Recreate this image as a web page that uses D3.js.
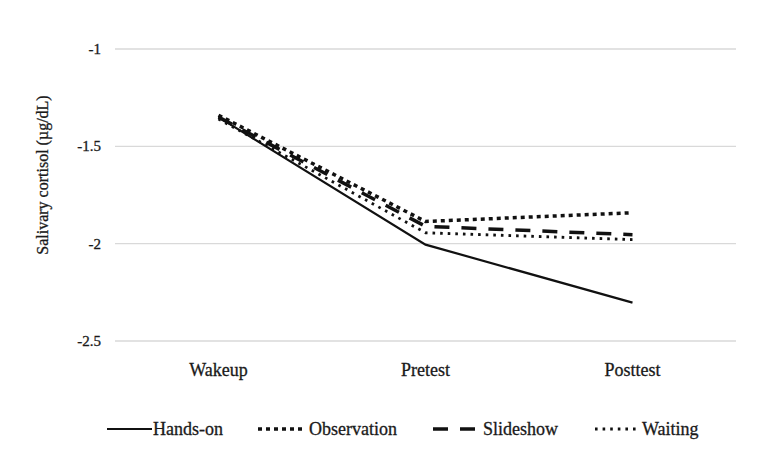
<!DOCTYPE html>
<html>
<head>
<meta charset="utf-8">
<script src="https://cdn.jsdelivr.net/npm/d3@7"></script>
<style>
  body { margin: 0; background: #fff; }
  text { font-family: "Liberation Serif", "Times New Roman", serif; fill: #1a1a1a; stroke: #1a1a1a; stroke-width: 0.3px; }
</style>
</head>
<body>
<div id="graf"></div>
<script>
// data
const categories = ["Wakeup", "Pretest", "Posttest"]
const yTicks = [-1, -1.5, -2, -2.5]
const handsOn = [-1.35, -2.005, -2.303]
const observation = [-1.34, -1.886, -1.841]
const slideshow = [-1.35, -1.911, -1.954]
const waiting = [-1.36, -1.944, -1.979]

const series = [
  {name: "Hands-on", values: handsOn, width: 2.2, dash: null},
  {name: "Observation", values: observation, width: 3.5, dash: "4,4"},
  {name: "Slideshow", values: slideshow, width: 3.5, dash: "15,12"},
  {name: "Waiting", values: waiting, width: 2.8, dash: "2.6,5"}
]

const width = 765
const height = 458
const margin = ({top: 49, right: 29, bottom: 117, left: 115})

const x = d3.scaleBand()
    .domain(categories)
    .range([margin.left, width - margin.right])

const y = d3.scaleLinear()
    .domain([-2.5, -1])
    .range([height - margin.bottom, margin.top])

const cx = c => x(c) + x.bandwidth() / 2

const svg = d3.select("#graf").append("svg")
    .attr("width", width)
    .attr("height", height)

// grid lines
svg.append("g")
  .selectAll("line")
  .data(yTicks)
  .join("line")
    .attr("x1", margin.left)
    .attr("x2", width - margin.right)
    .attr("y1", d => y(d))
    .attr("y2", d => y(d))
    .attr("stroke", "#d9d9d9")
    .attr("stroke-width", 1.3)

// y tick labels
svg.append("g")
  .selectAll("text")
  .data(yTicks)
  .join("text")
    .attr("x", 101)
    .attr("y", d => y(d) + 5)
    .attr("text-anchor", "end")
    .attr("font-size", 15)
    .text(d => d)

// x labels
svg.append("g")
  .selectAll("text")
  .data(categories)
  .join("text")
    .attr("x", d => cx(d))
    .attr("y", 376)
    .attr("text-anchor", "middle")
    .attr("font-size", 18)
    .text(d => d)

// y title
svg.append("text")
    .attr("transform", "translate(48,175) rotate(-90)")
    .attr("text-anchor", "middle")
    .attr("font-size", 16)
    .text("Salivary cortisol (µg/dL)")

const line = d3.line()
    .x((d, i) => cx(categories[i]))
    .y(d => y(d))

svg.append("g")
  .selectAll("path")
  .data(series)
  .join("path")
    .attr("fill", "none")
    .attr("stroke", "#111")
    .attr("stroke-width", d => d.width)
    .attr("stroke-dasharray", d => d.dash)
    .attr("d", d => line(d.values))

// legend
const legendPos = [
  {x1: 107, x2: 152, tx: 153},
  {x1: 258, x2: 306, tx: 309},
  {x1: 433, x2: 479, tx: 483},
  {x1: 595, x2: 638, tx: 642}
]
const legend = svg.append("g")
  .selectAll("g")
  .data(series)
  .join("g")

legend.append("line")
    .attr("x1", (d, i) => legendPos[i].x1)
    .attr("x2", (d, i) => legendPos[i].x2)
    .attr("y1", 429)
    .attr("y2", 429)
    .attr("stroke", "#111")
    .attr("stroke-width", d => d.width)
    .attr("stroke-dasharray", d => d.dash)

legend.append("text")
    .attr("x", (d, i) => legendPos[i].tx)
    .attr("y", 435)
    .attr("font-size", 18)
    .text(d => d.name)
</script>
</body>
</html>
